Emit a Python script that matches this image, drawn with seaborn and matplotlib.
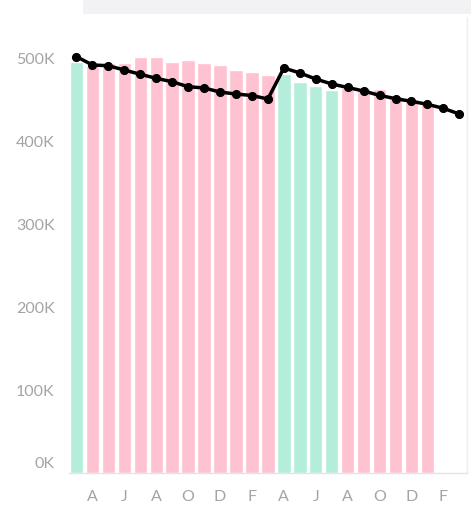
import matplotlib
matplotlib.use("Agg")
import matplotlib.pyplot as plt
import matplotlib.patches as mpatches
import matplotlib.transforms as mtransforms
from matplotlib.ticker import FuncFormatter, FixedLocator
import seaborn as sns
import pandas as pd

# Monthly series, March of year 1 through March of year 3
months = ["Mar", "Apr", "May", "Jun", "Jul", "Aug", "Sep", "Oct", "Nov", "Dec", "Jan", "Feb",
          "Mar", "Apr", "May", "Jun", "Jul", "Aug", "Sep", "Oct", "Nov", "Dec", "Jan", "Feb", "Mar"]

# Bar values (first 23 months) and their colour group
bar_values = [495000, 490000, 494000, 494000, 501000, 501000, 495000, 498000, 494000, 492000,
              486000, 483000, 479000, 481000, 471000, 466000, 461000, 464000, 464000, 463000,
              454000, 451000, 445000]
bar_groups = ["up", "down", "down", "down", "down", "down", "down", "down", "down", "down",
              "down", "down", "down", "up", "up", "up", "up", "down", "down", "down",
              "down", "down", "down"]

# Line values (all 25 months)
line_values = [501600, 491600, 490700, 485500, 480400, 475500, 471400, 465400, 463900, 459000,
               456600, 454800, 450600, 488000, 482000, 474700, 468700, 464500, 460200, 455000,
               451000, 447800, 444200, 439400, 432500]

tick_positions = [1, 3, 5, 7, 9, 11, 13, 15, 17, 19, 21, 23]
tick_labels = ["A", "J", "A", "O", "D", "F", "A", "J", "A", "O", "D", "F"]
y_ticks = [0, 100000, 200000, 300000, 400000, 500000]

sns.set_theme(style="white")
plt.rcParams["font.family"] = ["Lato", "DejaVu Sans"]

bars = pd.DataFrame({"pos": list(range(len(bar_values))), "value": bar_values, "group": bar_groups})
line = pd.DataFrame({"pos": list(range(len(line_values))), "value": line_values})

fig = plt.figure(figsize=(4.71, 5.09), dpi=100)
fig.patch.set_facecolor("white")

# light header strip across the top
fig.patches.append(mpatches.Rectangle((83 / 471, 1 - 14 / 509), 1, 14 / 509,
                                      transform=fig.transFigure, facecolor="#f2f2f4",
                                      edgecolor="none", zorder=0))

ax = fig.add_axes([68.5 / 471, (509 - 473) / 509, 398.8 / 471, (473 - 18) / 509])

sns.barplot(data=bars, x="pos", y="value", hue="group",
            palette={"up": "#b4eedb", "down": "#ffc2d0"},
            native_scale=True, width=0.84, saturation=1, errorbar=None,
            legend=False, ax=ax, zorder=2)

sns.lineplot(data=line, x="pos", y="value", color="black", linewidth=2.5,
             marker="o", markersize=5.8, markeredgecolor="black", ax=ax, zorder=3)

ax.set_xlim(-0.5, 24.5)
ax.set_ylim(0, 548200)
ax.xaxis.set_major_locator(FixedLocator(tick_positions))
ax.set_xticklabels(tick_labels)
ax.yaxis.set_major_locator(FixedLocator(y_ticks))
ax.yaxis.set_major_formatter(FuncFormatter(lambda v, _: f"{int(v / 1000)}K"))
ax.set_xlabel("")
ax.set_ylabel("")

ax.tick_params(axis="both", length=0, labelsize=11.5, labelcolor="#a4a4a4")
ax.tick_params(axis="y", pad=10)
ax.tick_params(axis="x", pad=12.5)

# keep the zero label clear of the baseline
fig.canvas.draw()
zero_label = ax.get_yticklabels()[0]
zero_label.set_transform(zero_label.get_transform() +
                         mtransforms.ScaledTranslation(0, 10 / 100, fig.dpi_scale_trans))

for side in ["top", "left"]:
    ax.spines[side].set_visible(False)
ax.spines["bottom"].set_color("#e4e4e4")
ax.spines["bottom"].set_linewidth(1)
ax.spines["right"].set_color("#eeeeee")
ax.spines["right"].set_linewidth(1)
ax.set_facecolor("white")

fig.savefig("out.png", dpi=100)
